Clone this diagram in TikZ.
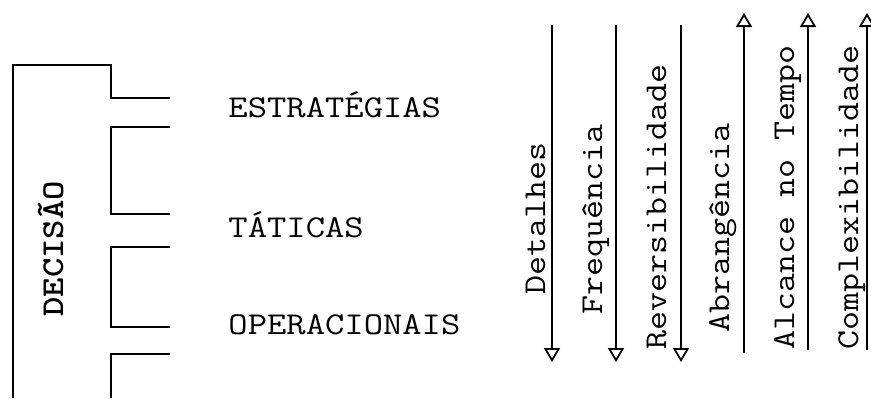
\documentclass[tikz,border=0pt]{standalone}
\usetikzlibrary{arrows.meta}
\tikzset{
  frame/.style={line width=0.8pt},
  trend/.style={-{Triangle[open,length=7pt,width=8pt,line width=0.9pt]}, line width=0.8pt},
  level/.style={font=\ttfamily\fontsize{15.9}{18}\selectfont, xscale=1.18,
                anchor=base west, inner sep=0pt},
  axislbl/.style={font=\ttfamily\fontsize{15.9}{18}\selectfont, rotate=90, xscale=1.16,
                  anchor=base west, inner sep=0pt}
}

\begin{document}
\begin{tikzpicture}[x=0.5pt,y=-0.5pt]
        \useasboundingbox (0,0) rectangle (871,398);

        % decision column and level brackets
        \draw[frame] (13,398) |- (111,65) -- (111,98) -- (170,98);
        \foreach \ya/\yb in {127/214,247/327}
          {\draw[frame] (170,\ya) -| (111,\yb) -- (170,\yb);}
        \draw[frame] (170,354) -| (111,398);

        \node[axislbl,font=\ttfamily\bfseries\fontsize{15.9}{18}\selectfont] (dec) at (63,317) {DECISÃO};
        \node[level] (estr) at (228,117) {ESTRATÉGIAS};
        \node[level] (tat) at (228,237) {TÁTICAS};
        \node[level] (oper) at (228,334) {OPERACIONAIS};

        % trends growing downwards
        \foreach \nm/\x in {det/552,freq/616,rev/681} {
          \coordinate (\nm-a) at (\x,25);
          \coordinate (\nm-b) at (\x,362);
          \draw[trend] (\nm-a) -- (\nm-b);
        }
        % trends growing upwards
        \foreach \nm/\x/\yb in {abr/744/353,alc/808/350,comp/867/350} {
          \coordinate (\nm-a) at (\x,\yb);
          \coordinate (\nm-b) at (\x,13);
          \draw[trend] (\nm-a) -- (\nm-b);
        }

        \node[axislbl] (det-l) at (545,295) {Detalhes};
        \node[axislbl] (freq-l) at (602,315) {Frequência};
        \node[axislbl] (rev-l) at (666,350) {Reversibilidade};
        \node[axislbl] (abr-l) at (729,333) {Abrangência};
        \node[axislbl] (alc-l) at (794,350) {Alcance no Tempo};
        \node[axislbl] (comp-l) at (858,350) {Complexibilidade};
      \end{tikzpicture}
\end{document}
